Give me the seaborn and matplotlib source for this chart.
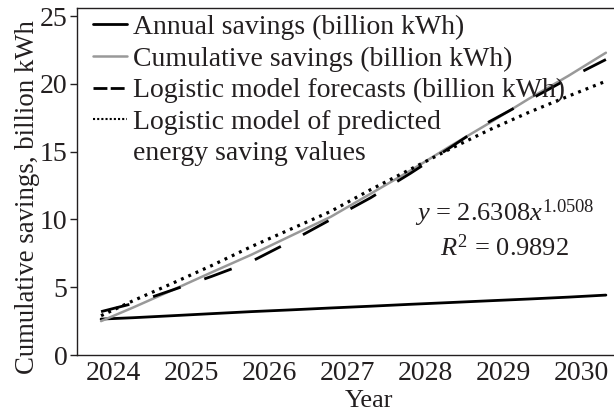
import matplotlib
matplotlib.use("Agg")
from matplotlib import pyplot as plt
from matplotlib.lines import Line2D
import numpy as np
import pandas as pd
import seaborn as sns

years = [2023.84, 2024.25, 2024.76, 2025.26, 2025.77, 2026.28, 2026.79,
         2027.30, 2027.81, 2028.32, 2028.82, 2029.33, 2029.84, 2030.32]
annual = [2.65, 2.75, 2.9, 3.05, 3.2, 3.33, 3.47, 3.6, 3.74, 3.87, 4.0, 4.13, 4.27, 4.42]
cumulative = [2.5, 3.5, 4.8, 6.1, 7.4, 8.8, 10.2, 11.9, 13.6, 15.4, 17.1, 18.9, 20.6, 22.3]
forecast = [3.2, 3.8, 4.8, 5.8, 6.9, 8.4, 10.0, 11.6, 13.4, 15.3, 17.2, 18.8, 20.4, 21.8]
model = [2.9, 4.0, 5.3, 6.6, 8.0, 9.3, 10.6, 12.2, 13.7, 15.2, 16.6, 17.9, 19.1, 20.2]
year_ticks = [2024, 2025, 2026, 2027, 2028, 2029, 2030]

df = pd.DataFrame({"Year": years, "Annual": annual, "Cumulative": cumulative,
                   "Forecast": forecast, "Model": model})

sns.set_style("ticks")
plt.rcParams["font.family"] = ["Liberation Serif", "DejaVu Serif"]
plt.rcParams["mathtext.fontset"] = "custom"
plt.rcParams["mathtext.rm"] = "Liberation Serif"
plt.rcParams["mathtext.it"] = "Liberation Serif:italic"
ink = "#231f20"

fig = plt.figure(figsize=(6.14, 4.11), dpi=100)
ax = fig.add_axes([77 / 614, 1 - 355 / 411, 1 - 77 / 614, 347 / 411])

sns.lineplot(data=df, x="Year", y="Annual", ax=ax, color="black", lw=2.0)
sns.lineplot(data=df, x="Year", y="Cumulative", ax=ax, color="#999999", lw=1.8)
sns.lineplot(data=df, x="Year", y="Forecast", ax=ax, color="black", lw=2.0,
             linestyle=(0, (10.5, 9)))
sns.lineplot(data=df, x="Year", y="Model", ax=ax, color="black", lw=2.3,
             linestyle=(0, (0.9, 1.6)))

ax.set_xlim(2023.531, 2030.424)
ax.set_ylim(0, 25.6)
ax.set_xticks(year_ticks)
ax.set_yticks([0, 5, 10, 15, 20, 25])
ax.tick_params(axis="x", length=0, labelsize=20, colors=ink, pad=4)
ax.tick_params(axis="y", length=5, width=1, labelsize=20, colors=ink, pad=2)
for s in ["left", "bottom", "top"]:
    ax.spines[s].set_color(ink)
    ax.spines[s].set_linewidth(1.0)
ax.spines["right"].set_visible(False)

ax.set_xlabel("Year", fontsize=19, color=ink)
ax.set_ylabel("Cumulative savings, billion kWh", fontsize=19.3, color=ink)
ax.xaxis.set_label_coords(0.544, -0.1)
ax.yaxis.set_label_coords(-0.068, 0.455)

ax.text(2029.02, 10.45, r"$y$ = 2.6308$x^{1.0508}$", fontsize=19, color=ink,
        ha="center", va="center")
ax.text(2029.02, 7.9, r"$R^2$ = 0.9892", fontsize=19, color=ink,
        ha="center", va="center")

handles = [
    Line2D([], [], color="black", lw=2.0),
    Line2D([], [], color="#999999", lw=1.8),
    Line2D([], [], color="black", lw=2.0, linestyle=(0, (5.0, 1.2))),
    Line2D([], [], color="black", lw=1.5, linestyle=(0, (1.0, 1.0))),
    Line2D([], [], color="none"),
]
labels = ["Annual savings (billion kWh)", "Cumulative savings (billion kWh)",
          "Logistic model forecasts (billion kWh)", "Logistic model of predicted",
          "energy saving values"]
ax.legend(handles, labels, loc="upper left", bbox_to_anchor=(90 / 614, 1 - 12 / 411),
          bbox_transform=fig.transFigure, frameon=False, fontsize=20,
          handlelength=1.22, handletextpad=0.22, labelspacing=0.22,
          borderaxespad=0, borderpad=0.1, labelcolor=ink)

fig.savefig("out.png", dpi=100)
